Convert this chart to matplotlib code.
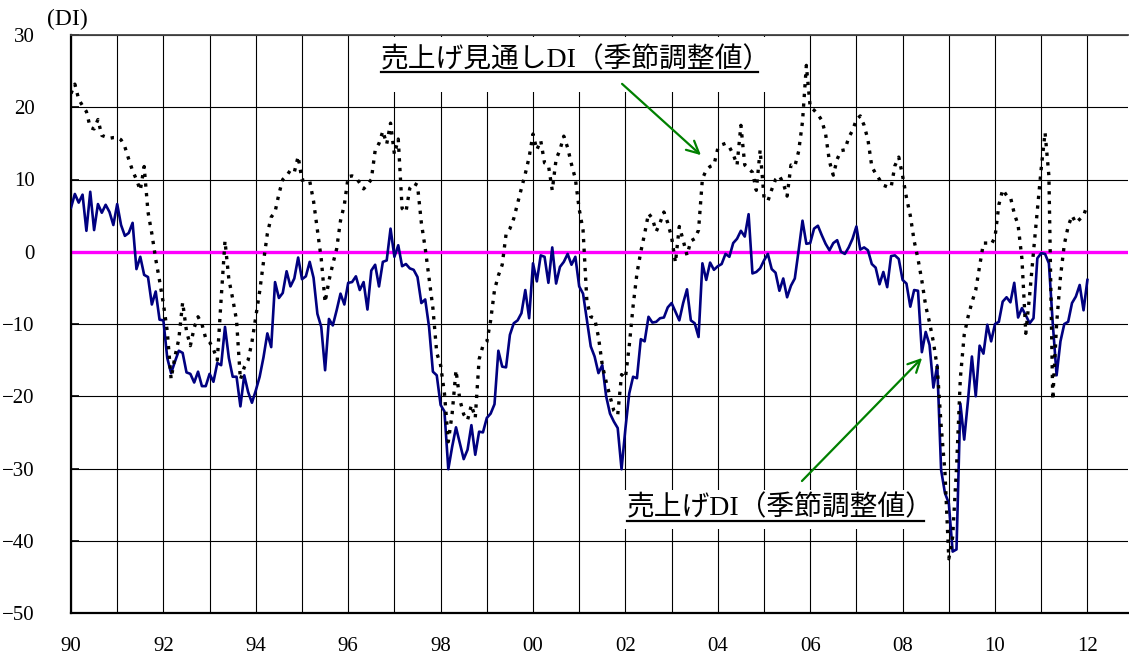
import numpy as np
import matplotlib.pyplot as plt
from matplotlib.lines import Line2D
from matplotlib.patches import Rectangle

plt.rcParams['font.family'] = ['Liberation Serif', 'Noto Sans CJK JP', 'DejaVu Sans']

W, H = 1129, 662

# monthly values, Jan 1990 .. Jan 2012
start_year = 1990

sales_di = [
    6.1, 8.0, 6.8, 7.9, 2.9, 8.3, 3.0, 6.6, 5.4, 6.5, 5.5, 3.7,              # 1990
    6.6, 3.7, 2.2, 2.6, 4.0, -2.4, -0.7, -3.2, -3.5, -7.3, -5.5, -9.4,       # 1991
    -9.5, -14.7, -16.8, -15.2, -13.7, -14.0, -16.7, -16.9, -18.1, -16.6, -18.6, -18.6,  # 1992
    -16.9, -18.0, -15.4, -15.7, -10.4, -14.7, -17.3, -17.3, -21.4, -17.1, -19.4, -20.9,  # 1993
    -19.2, -17.3, -14.6, -11.3, -13.2, -4.2, -6.4, -5.7, -2.7, -4.8, -3.7, -0.8,  # 1994
    -3.8, -3.4, -1.4, -3.6, -8.6, -10.4, -16.4, -9.3, -10.2, -8.1, -5.8, -7.3,   # 1995
    -4.3, -4.2, -3.4, -5.3, -4.2, -8.0, -2.6, -1.8, -4.8, -1.4, -1.2, 3.2,      # 1996
    -0.7, 0.9, -2.0, -1.7, -2.3, -2.5, -3.5, -7.1, -6.6, -10.4, -16.6, -17.1,   # 1997
    -21.2, -22.1, -30.1, -27.0, -24.3, -26.5, -28.7, -27.4, -24.0, -28.1, -24.9, -25.0,  # 1998
    -23.0, -22.4, -21.1, -13.7, -15.9, -16.0, -11.5, -9.9, -9.5, -8.5, -5.3, -9.2,  # 1999
    -1.6, -4.1, -0.5, -0.7, -4.3, 0.6, -4.4, -2.1, -1.4, -0.3, -1.8, -0.7,       # 2000
    -4.8, -5.8, -9.4, -13.1, -14.5, -16.8, -15.7, -20.0, -22.4, -23.5, -24.4, -30.1,  # 2001
    -24.5, -19.6, -17.3, -17.5, -12.1, -12.4, -9.0, -9.8, -9.7, -9.2, -9.1, -7.7,  # 2002
    -7.1, -8.3, -9.5, -7.1, -5.2, -9.5, -9.9, -11.8, -1.6, -3.9, -1.5, -2.5,     # 2003
    -2.0, -1.7, -0.3, -0.7, 1.2, 1.8, 2.9, 2.1, 5.2, -3.0, -2.8, -2.3,           # 2004
    -1.2, -0.3, -2.4, -2.9, -5.4, -3.7, -6.3, -4.7, -3.7, 0.2, 4.3, 1.1,         # 2005
    1.2, 3.2, 3.6, 2.3, 1.1, 0.2, 1.2, 1.6, 0.0, -0.3, 0.6, 1.8,                 # 2006
    3.5, 0.3, 0.6, 0.2, -1.7, -2.2, -4.5, -2.8, -4.9, -0.6, -0.5, -1.0,          # 2007
    -3.9, -4.4, -7.6, -5.3, -5.4, -13.9, -11.1, -12.9, -18.8, -15.7, -30.2, -33.4,  # 2008
    -34.8, -41.5, -41.2, -21.0, -26.0, -20.5, -14.5, -20.0, -13.0, -14.1, -10.1, -12.4,  # 2009
    -10.0, -9.7, -6.9, -6.3, -7.0, -4.3, -9.1, -7.8, -8.8, -9.9, -9.2, -0.9,     # 2010
    -0.2, -0.3, -1.6, -9.9, -17.1, -12.4, -10.0, -9.7, -7.1, -6.2, -4.6, -8.1,   # 2011
    -3.9,                                                                        # 2012
]

sales_outlook_di = [
    21.9, 23.2, 21.1, 20.2, 19.4, 17.2, 17.0, 18.3, 16.1, 15.9, 15.7, 15.8,     # 1990
    15.8, 15.5, 14.5, 12.8, 11.2, 10.0, 8.5, 11.8, 5.5, 2.5, -1.0, -4.0,        # 1991
    -7.2, -11.0, -17.6, -14.5, -12.1, -7.0, -11.0, -13.0, -10.5, -9.0, -10.0, -12.0,  # 1992
    -12.5, -13.5, -15.0, -6.5, 1.5, -3.8, -6.5, -9.5, -17.7, -16.0, -15.0, -12.5,  # 1993
    -9.0, -5.5, -1.4, 2.5, 4.8, 5.5, 8.0, 10.0, 10.5, 11.3, 11.0, 13.2,         # 1994
    9.9, 10.0, 9.8, 7.0, 3.0, -1.0, -7.0, -4.0, -1.7, 0.4, 4.3, 6.5,            # 1995
    10.4, 10.5, 10.3, 9.5, 8.7, 9.3, 10.0, 14.0, 15.0, 16.7, 14.9, 17.8,        # 1996
    13.5, 15.6, 6.0, 5.5, 8.8, 9.5, 9.2, 4.0, 0.5, -3.7, -7.8, -14.0,           # 1997
    -15.7, -19.6, -26.3, -22.4, -16.4, -20.5, -22.5, -23.3, -21.2, -23.0, -14.9, -13.0,  # 1998
    -12.5, -9.5, -5.3, -3.3, -1.8, 2.4, 3.2, 4.6, 6.7, 8.8, 10.8, 13.1,         # 1999
    16.3, 14.1, 15.4, 12.3, 12.0, 8.5, 12.8, 14.1, 16.0, 14.4, 12.1, 10.1,      # 2000
    5.9, 3.0, -6.9, -9.0, -9.2, -11.8, -15.7, -18.0, -20.0, -22.0, -22.6, -17.0,  # 2001
    -17.5, -13.0, -7.5, -3.0, 0.0, 2.5, 5.3, 4.6, 2.8, 4.0, 5.5, 4.0,           # 2002
    2.0, -1.5, 3.5, 1.6, -0.5, 1.5, 1.8, 3.0, 10.1, 11.3, 11.8, 12.0,           # 2003
    14.3, 14.8, 15.0, 14.5, 13.5, 12.0, 17.5, 12.0, 11.5, 11.0, 8.5, 14.1,      # 2004
    7.5, 7.0, 8.6, 10.0, 10.5, 9.5, 7.7, 12.0, 11.8, 13.9, 18.0, 25.8,          # 2005
    20.0, 19.6, 19.0, 18.2, 16.3, 12.5, 10.6, 12.8, 14.0, 14.1, 15.8, 16.8,     # 2006
    18.3, 18.8, 17.5, 15.5, 11.8, 10.8, 10.0, 9.2, 9.0, 8.9, 11.9, 13.1,        # 2007
    10.5, 7.5, 5.0, 1.5, -1.0, -4.0, -7.5, -9.8, -12.5, -16.0, -24.0, -30.5,    # 2008
    -42.5, -39.5, -30.0, -17.5, -11.5, -9.0, -7.0, -5.3, -2.0, 1.2, 1.2, 1.0,   # 2009
    2.0, 6.5, 8.6, 7.8, 7.6, 5.3, 3.7, -1.0, -11.3, -6.0, 0.0, 5.8,             # 2010
    11.5, 16.5, 10.5, -20.5, -10.0, -3.5, 1.0, 3.5, 5.0, 4.0, 4.5, 5.0,         # 2011
    6.5,                                                                        # 2012
]

label_outlook = '売上げ見通しDI（季節調整値）'
label_sales = '売上げDI（季節調整値）'
tick_years = list(range(1990, 2013, 2))
tick_labels = [f'{y % 100:02d}' for y in tick_years]

t = start_year + np.arange(len(sales_di)) / 12.0


def fpx(x, y):
    # pixel position (from top-left) -> figure fraction
    return (x / W, 1 - y / H)


fig = plt.figure(figsize=(W / 100, H / 100), dpi=100)
ax = fig.add_axes([71 / W, 1 - 613 / H, (1128 - 71) / W, (613 - 35) / H])

ax.set_xlim(1990, 1990 + (1128 - 71) / 46.2)
ax.set_ylim(-50, 30)

ax.set_xticks(range(1990, 2013))
ax.set_xticklabels([tick_labels[tick_years.index(y)] if y in tick_years else '' for y in range(1990, 2013)])
ax.set_yticks(range(-50, 31, 10))
ax.tick_params(axis='x', length=0, pad=17, labelsize=15)
ax.tick_params(axis='y', direction='in', length=6, width=1.2, pad=26, labelsize=15)

ax.set_axisbelow(True)
ax.grid(True, color='black', lw=0.8)
ax.spines['right'].set_visible(False)
ax.spines['left'].set_linewidth(1.6)
ax.spines['bottom'].set_linewidth(1.6)
ax.spines['top'].set_linewidth(1.3)
ax.spines['top'].set_color('#444444')

ax.axhline(0, color='#ff00ff', lw=2.4, zorder=2)

ax.plot(t, sales_di, color='#000080', lw=1.9, zorder=3)
ax.plot(t, sales_outlook_di, color='black', lw=2.4, linestyle=(0, (1.0, 1.9)), zorder=4)

# white boxes behind the labels hide the grid
for (x0, y0, x1, y1) in [(374, 37, 768, 92), (619, 490, 928, 529)]:
    ax.add_patch(Rectangle(fpx(x0, y1), (x1 - x0) / W, (y1 - y0) / H,
                           transform=fig.transFigure, facecolor='white',
                           edgecolor='none', zorder=2.5))

ax.text(*fpx(381, 67), label_outlook, transform=fig.transFigure,
        ha='left', va='baseline', fontsize=20, zorder=5)
ax.add_line(Line2D([381 / W, 758 / W], [1 - 71.5 / H] * 2, transform=fig.transFigure,
                   color='black', lw=1.6, zorder=5))

ax.text(*fpx(627, 515), label_sales, transform=fig.transFigure,
        ha='left', va='baseline', fontsize=20, zorder=5)
ax.add_line(Line2D([627 / W, 924 / W], [1 - 520.5 / H] * 2, transform=fig.transFigure,
                   color='black', lw=1.6, zorder=5))

arrow = dict(arrowstyle='->', color='#008000', lw=1.6, mutation_scale=22)
ax.annotate('', xy=fpx(703, 157), xytext=fpx(620, 82), xycoords='figure fraction',
            textcoords='figure fraction', arrowprops=arrow, zorder=5)
ax.annotate('', xy=fpx(924, 356), xytext=fpx(800, 483), xycoords='figure fraction',
            textcoords='figure fraction', arrowprops=arrow, zorder=5)

fig.text(*fpx(47, 25), '(DI)', ha='left', va='baseline', fontsize=17)

fig.savefig('out.png', dpi=100)
